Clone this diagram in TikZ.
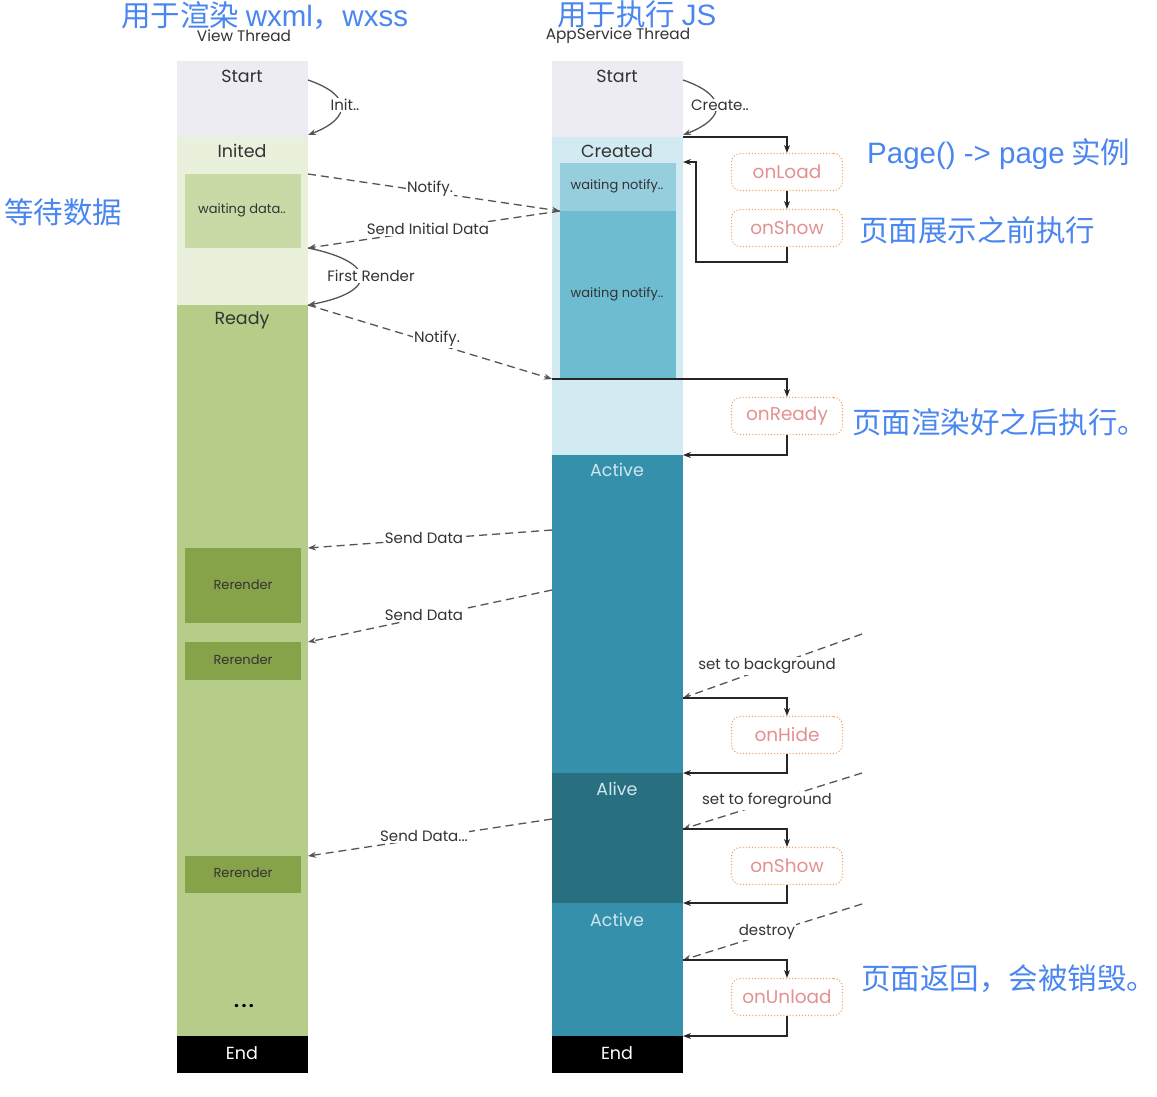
\documentclass[tikz,border=0pt]{standalone}
\usepackage{fontspec}
\setmainfont{Poppins}
\newfontfamily\cjk{Noto Sans CJK SC}
\newfontfamily\arialf{Liberation Sans}
\usetikzlibrary{arrows.meta}
\definecolor{lav}{HTML}{EEECF3}
\definecolor{inited}{HTML}{E9F0DC}
\definecolor{wdata}{HTML}{C9DAA7}
\definecolor{ready}{HTML}{B6CD89}
\definecolor{rerend}{HTML}{86A34A}
\definecolor{created}{HTML}{D2EAF1}
\definecolor{wn1}{HTML}{96CEDD}
\definecolor{wn2}{HTML}{6EBCD1}
\definecolor{active}{HTML}{3590AB}
\definecolor{alive}{HTML}{286F80}
\definecolor{txt}{HTML}{333333}
\definecolor{acttxt}{HTML}{CFE6EE}
\definecolor{bluec}{HTML}{4A86F0}
\definecolor{hookline}{HTML}{F2A25E}
\definecolor{hooktxt}{HTML}{E39090}
\definecolor{msgc}{HTML}{555555}
\begin{document}
\begin{tikzpicture}[x=1pt,y=-1pt,
  state/.style={font=\fontsize{17.5}{17.5}\selectfont, text=txt, inner sep=0pt},
  small/.style={font=\fontsize{13}{13}\selectfont, text=txt, inner sep=0pt},
  head/.style={font=\fontsize{15.3}{15.3}\selectfont, text=txt, inner sep=0pt},
  lbl/.style={font=\fontsize{15}{15}\selectfont, text=txt, fill=white, inner sep=1pt},
  hook/.style={draw=hookline, dotted, line width=1.1pt, rounded corners=9pt, minimum width=111pt, minimum height=37pt, text=hooktxt, font=\fontsize{18.5}{18.5}\selectfont, inner sep=0pt},
  flow/.style={draw=black!85, line width=1.1pt, -{Stealth[length=8pt,width=6pt]}},
  msg/.style={draw=msgc, line width=1.3pt, dash pattern=on 8pt off 5pt, -{Stealth[length=8pt,width=6pt]}},
  curv/.style={draw=msgc, line width=1.3pt, -{Stealth[length=8pt,width=6pt]}},
  note/.style={text=bluec, font=\cjk\fontsize{29.5}{29.5}\selectfont, inner sep=0pt}
]
\useasboundingbox (0,0) rectangle (1157,1097);
% ---------- left column ----------
\fill[lav] (177,61) rectangle (308,137);
\fill[inited] (177,137) rectangle (308,305);
\fill[wdata] (185,174) rectangle (301,248);
\fill[ready] (177,305) rectangle (308,1036);
\fill[rerend] (185,548) rectangle (301,623);
\fill[rerend] (185,642) rectangle (301,680);
\fill[rerend] (185,856) rectangle (301,893);
\fill[black] (177,1036) rectangle (308,1073);
% ---------- right column ----------
\fill[lav] (552,61) rectangle (683,137);
\fill[created] (552,137) rectangle (683,455);
\fill[wn1] (560,163) rectangle (676,211);
\fill[wn2] (560,211) rectangle (676,379);
\fill[active] (552,455) rectangle (683,773);
\fill[alive] (552,773) rectangle (683,903);
\fill[active] (552,903) rectangle (683,1036);
\fill[black] (552,1036) rectangle (683,1073);
% ---------- texts ----------
\node[note, anchor=west] (n1) at (121,16) {用于渲染 {\arialf wxml}，{\arialf wxss}};
\node[note, anchor=west] (n2) at (557,14) {用于执行 {\arialf JS}};
\node[head] (vt) at (244,36) {View Thread};
\node[head] (at) at (618,36) {AppService Thread};
\node[note, anchor=west] (n3) at (4,212) {等待数据};
\node[note, anchor=west] (n4) at (867,154) {{\arialf Page() -> page} 实例};
\node[note, anchor=west] (n5) at (859,230) {页面展示之前执行};
\node[note, anchor=west] (n6) at (852,422) {页面渲染好之后执行。};
\node[note, anchor=west] (n7) at (861,979) {页面返回，会被销毁。};

\node[state] (vstart) at (242,76) {Start};
\node[state] (vinit) at (242,151) {Inited};
\node[small] (vwait) at (242,210) {waiting data..};
\node[state] (vready) at (242,320) {Ready};
\node[small, text=black!80] (rr1) at (243,585) {Rerender};
\node[small, text=black!80] (rr2) at (243,660) {Rerender};
\node[small, text=black!80] (rr3) at (243,873) {Rerender};
\node[state, text=black] (dots) at (244,1006) {\textbf{.\hspace{2.5pt}.\hspace{2.5pt}.}};
\node[state, text=white] (vend) at (242,1053) {End};

\node[state] (astart) at (617,76) {Start};
\node[state] (acreated) at (617,151) {Created};
\node[small] (aw1) at (617,186) {waiting notify..};
\node[small] (aw2) at (617,294) {waiting notify..};
\node[state, text=acttxt] (aact1) at (617,470) {Active};
\node[state, text=acttxt] (aalive) at (617,789) {Alive};
\node[state, text=acttxt] (aact2) at (617,920) {Active};
\node[state, text=white] (aend) at (617,1053) {End};
% ---------- hooks ----------
\node[hook] (onload) at (787,172) {onLoad};
\node[hook] (onshow1) at (787,228) {onShow};
\node[hook] (onready) at (787,416) {onReady};
\node[hook] (onhide) at (787,735) {onHide};
\node[hook] (onshow2) at (787,866) {onShow};
\node[hook] (onunload) at (787,997) {onUnload};
% ---------- coordinates ----------
\coordinate (vS1) at (308,80);
\coordinate (vS2) at (308,135);
\coordinate (aS1) at (683,80);
\coordinate (aS2) at (683,135);
\coordinate (vN1) at (308,174);
\coordinate (aW) at (560,211);
\coordinate (vD1) at (308,248);
\coordinate (vR) at (308,305);
\coordinate (aN2) at (552,379);
\coordinate (aD1) at (552,530);
\coordinate (vD2) at (308,548);
\coordinate (aD2) at (552,590);
\coordinate (vD3) at (308,642);
\coordinate (aD3) at (552,819);
\coordinate (vD4) at (308,856);
\coordinate (bg0) at (862,634);
\coordinate (bg1) at (683,698);
\coordinate (fg0) at (862,773);
\coordinate (fg1) at (683,829);
\coordinate (de0) at (862,904);
\coordinate (de1) at (683,960);
\coordinate (cr) at (683,137);
\coordinate (back1) at (683,162);
\coordinate (act1) at (683,455);
\coordinate (alv) at (683,773);
\coordinate (act2) at (683,903);
\coordinate (endc) at (683,1036);
% ---------- curves ----------
\draw[curv] (vS1) .. controls (352,95) and (352,118) .. (vS2);
\node[lbl] (linit) at (345,105) {Init..};
\draw[curv] (aS1) .. controls (727,95) and (727,118) .. (aS2);
\node[lbl] (lcreate) at (720,105) {Create..};
\draw[curv] (vD1) .. controls (378,262) and (378,292) .. (vR);
\node[lbl] (lfr) at (371,276) {First Render};
% ---------- messages ----------
\draw[msg] (vN1) -- (aW);
\node[lbl] (ln1) at (430,189) {Notify.};
\draw[msg] (aW) -- (vD1);
\node[lbl] (lsid) at (428,229) {Send Initial Data};
\draw[msg] (vR) -- (aN2);
\node[lbl] (ln2) at (437,339) {Notify.};
\draw[msg] (aD1) -- (vD2);
\node[lbl] (lsd1) at (424,538) {Send Data};
\draw[msg] (aD2) -- (vD3);
\node[lbl] (lsd2) at (424,615) {Send Data};
\draw[msg] (aD3) -- (vD4);
\node[lbl] (lsd3) at (424,836) {Send Data...};
\draw[msg] (bg0) -- (bg1);
\node[lbl] (lbg) at (767,666) {set to background};
\draw[msg] (fg0) -- (fg1);
\node[lbl] (lfg) at (767,801) {set to foreground};
\draw[msg] (de0) -- (de1);
\node[lbl] (lde) at (767,932) {destroy};
% ---------- lifecycle flow ----------
\draw[flow] (cr) -| (onload.north);
\draw[flow] (onload) -- (onshow1);
\draw[flow] (onshow1.south) |- (696,262) |- (back1);
\draw[flow] (aN2) -| (onready.north);
\draw[flow] (onready.south) |- (act1);
\draw[flow] (bg1) -| (onhide.north);
\draw[flow] (onhide.south) |- (alv);
\draw[flow] (fg1) -| (onshow2.north);
\draw[flow] (onshow2.south) |- (act2);
\draw[flow] (de1) -| (onunload.north);
\draw[flow] (onunload.south) |- (endc);
\end{tikzpicture}
\end{document}
